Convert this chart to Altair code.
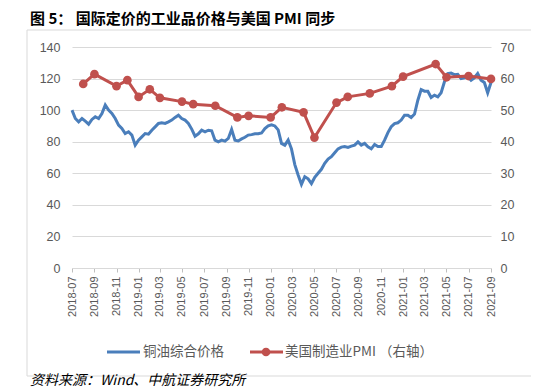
import altair as alt
import pandas as pd

# 铜油综合价格 (left axis) at regular spacing from 2018-07 to 2021-09
copper_oil = [
    100, 94.7, 92.6, 94.7, 93, 91.1, 94.1, 95.8, 94.7, 97.9,
    103.2, 100, 97.9, 94.7, 90.5, 88.4, 85.2, 86.3, 84.2, 77.8,
    81, 83.1, 85.2, 84.8, 87.3, 89.4, 91.6, 92, 91.6, 92.6,
    93.7, 95.4, 96.8, 94.7, 93.7, 91.6, 88, 83.5, 85, 87.3,
    86.3, 87.3, 86.9, 81, 79.9, 81, 80.4, 82.1, 87.8, 81,
    80.5, 81.8, 82.8, 84.2, 84.5, 85, 85, 85.5, 88.3, 90,
    90.7, 90, 87.5, 78.9, 77.8, 81, 75.5, 65.5, 58.9, 53,
    57.8, 56.5, 53.5, 57.5, 60, 62.5, 66.3, 69, 70.5, 73,
    75.5, 76.6, 77, 76.4, 77.2, 77.8, 79.9, 77.8, 78.9, 76.8,
    75.5, 78.3, 77, 77, 81, 85.8, 89.5, 91.5, 92, 93.7,
    96.8, 96.8, 95.3, 97.5, 106.3, 113, 112, 112, 108, 109.5,
    108.4, 111, 118, 123.2, 123.5, 122.5, 122.7, 120, 120.5, 121.3,
    119, 120.5, 123.2, 119, 117.5, 111, 117.5,
]
copper_oil_dates = pd.date_range("2018-07-01", "2021-09-01", periods=len(copper_oil))

# 美国制造业PMI (right axis)
pmi_dates = [
    "2018-08-01", "2018-09-01", "2018-11-01", "2018-12-01", "2019-01-01",
    "2019-02-01", "2019-03-01", "2019-05-01", "2019-06-01", "2019-08-01",
    "2019-10-01", "2019-11-01", "2020-01-01", "2020-02-01", "2020-04-01",
    "2020-05-01", "2020-07-01", "2020-08-01", "2020-10-01", "2020-12-01",
    "2021-01-01", "2021-04-01", "2021-05-01", "2021-07-01", "2021-09-01",
]
pmi_values = [
    58.3, 61.4, 57.6, 59.5, 54.2,
    56.6, 53.9, 52.7, 51.9, 51.4,
    47.7, 48.2, 47.7, 50.9, 49.3,
    41.3, 52.4, 54.2, 55.3, 57.6,
    60.6, 64.6, 60.4, 60.8, 59.9,
]

tick_months = [(2018, m) for m in (7, 9, 11)] + \
              [(2019, m) for m in (1, 3, 5, 7, 9, 11)] + \
              [(2020, m) for m in (1, 3, 5, 7, 9, 11)] + \
              [(2021, m) for m in (1, 3, 5, 7, 9)]
left_ticks = [0, 20, 40, 60, 80, 100, 120, 140]
right_ticks = [0, 10, 20, 30, 40, 50, 60, 70]

series_names = ["铜油综合价格", "美国制造业PMI （右轴）"]
title_text = "图 5： 国际定价的工业品价格与美国 PMI 同步"
source_text = "资料来源：Wind、中航证券研究所"

BLUE = "#4a7ebb"
RED = "#c0504d"
GRID = "#d9d9d9"
LABEL = "#595959"
FONT = "Liberation Sans"
CJK = "Noto Sans CJK SC"

blue_df = pd.DataFrame({"date": copper_oil_dates, "value": copper_oil})
red_df = pd.DataFrame({"date": pd.to_datetime(pmi_dates), "value": pmi_values})

x_axis = alt.Axis(
    values=[alt.DateTime(year=y, month=m, date=1) for y, m in tick_months],
    format="%Y-%m", labelAngle=270, labelAlign="right", labelBaseline="middle",
    labelPadding=4, tickSize=4, tickColor="#bfbfbf", domainColor=GRID,
    grid=False, title=None, labelColor=LABEL, labelFontSize=11, labelFont=FONT,
    labelOverlap=False, labelSeparation=0,
)
x_scale = alt.Scale(domain=[alt.DateTime(year=2018, month=7, date=1),
                            alt.DateTime(year=2021, month=9, date=1)])
x_enc = alt.X("date:T", scale=x_scale, axis=x_axis)

blue = alt.Chart(blue_df).mark_line(color=BLUE, strokeWidth=3).encode(
    x=x_enc,
    y=alt.Y("value:Q", scale=alt.Scale(domain=[0, 140], nice=False),
            axis=alt.Axis(values=left_ticks, grid=True, gridColor=GRID, domain=False,
                          ticks=False, labelPadding=12, title=None, labelColor=LABEL,
                          labelFontSize=12.5, labelFont=FONT)),
)

red_y = alt.Y("value:Q", scale=alt.Scale(domain=[0, 70], nice=False),
              axis=alt.Axis(orient="right", values=right_ticks, grid=False, domain=False,
                            ticks=False, labelPadding=9, title=None, labelColor=LABEL,
                            labelFontSize=12.5, labelFont=FONT))
red_base = alt.Chart(red_df).encode(x=x_enc, y=red_y)
red = red_base.mark_line(color=RED, strokeWidth=3) + \
      red_base.mark_point(color=RED, filled=True, size=75, opacity=1)

one = pd.DataFrame({"a": [0]})

frame = alt.Chart(one).mark_rect(fillOpacity=0, stroke=GRID, strokeWidth=1).encode(
    x=alt.value(-45), x2=alt.value(461), y=alt.value(-17), y2=alt.value(329))

title = alt.Chart(one).mark_text(
    text=title_text, align="left", baseline="alphabetic", fontSize=15, fontWeight="bold",
    font=CJK, color="black").encode(x=alt.value(-42), y=alt.value(-23))

source = alt.Chart(one).mark_text(
    text=source_text, align="left", baseline="middle", fontSize=14, fontStyle="italic",
    font=CJK, color="black").encode(x=alt.value(-42), y=alt.value(334))

leg_blue_line = alt.Chart(one).mark_rule(color=BLUE, strokeWidth=3).encode(
    x=alt.value(35), x2=alt.value(68), y=alt.value(305))
leg_blue_text = alt.Chart(one).mark_text(
    text=series_names[0], align="left", baseline="middle", fontSize=13.5, font=CJK,
    color=LABEL).encode(x=alt.value(71), y=alt.value(305))
leg_red_line = alt.Chart(one).mark_rule(color=RED, strokeWidth=3).encode(
    x=alt.value(178), x2=alt.value(211), y=alt.value(305))
leg_red_point = alt.Chart(one).mark_point(color=RED, filled=True, size=75, opacity=1).encode(
    x=alt.value(194), y=alt.value(305))
leg_red_text = alt.Chart(one).mark_text(
    text=series_names[1], align="left", baseline="middle", fontSize=13.5, font=CJK,
    color=LABEL).encode(x=alt.value(213), y=alt.value(305))

main = alt.layer(blue, red).resolve_scale(y="independent")

chart = alt.layer(
    frame, main, title, source, leg_blue_line, leg_blue_text,
    leg_red_line, leg_red_point, leg_red_text,
).properties(
    width=419, height=221,
    padding={"left": 64, "top": 39, "right": 40, "bottom": 122},
    autosize=alt.AutoSizeParams(type="none"),
    background="white",
).configure_view(stroke=None).configure_axis(labelOverlap=False)

chart.save("out.html", embed_options={"renderer": "svg", "actions": False})
